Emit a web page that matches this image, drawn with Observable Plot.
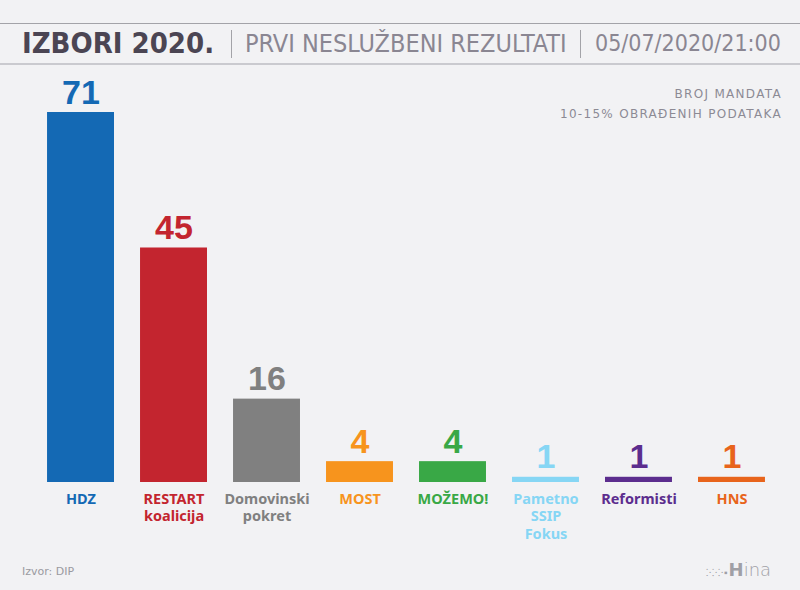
<!DOCTYPE html>
<html>
<head>
<meta charset="utf-8">
<script src="https://cdn.jsdelivr.net/npm/d3@7"></script>
<script src="https://cdn.jsdelivr.net/npm/@observablehq/plot@0.6"></script>
<style>
  html, body { margin: 0; padding: 0; background: #f2f2f4; }
  #page { position: relative; width: 800px; height: 590px; background: #f2f2f4; overflow: hidden; font-family: "DejaVu Sans", sans-serif; }
  #header { position: absolute; left: 0; top: 23px; width: 800px; height: 39px; border-top: 1px solid #a3a3a8; border-bottom: 2px solid #cacacf; }
  #header span { position: absolute; top: 0; line-height: 39px; white-space: nowrap; font-family: "DejaVu Sans Condensed", "DejaVu Sans", sans-serif; font-stretch: condensed; }
  #title { left: 22px; font-size: 29px; font-weight: bold; color: #4b4553; }
  #sub { left: 245px; font-size: 25px; color: #8a8692; }
  #date { left: 595px; font-size: 23px; color: #8a8692; }
  .sep { position: absolute; top: 6px; width: 1px; height: 28px; background: #a3a3a8; }
  .note { position: absolute; right: 18px; font-family: "DejaVu Sans", sans-serif; font-size: 12px; letter-spacing: 1.3px; color: #8c8a94; white-space: nowrap; }
  #chart { position: absolute; left: 0; top: 64px; }
  #src { position: absolute; left: 22px; top: 565px; font-size: 11px; color: #9a9aa0; font-family: "DejaVu Sans", sans-serif; }
  #logo { position: absolute; left: 706px; top: 559px; font-size: 18px; color: #a0a0a6; font-family: "DejaVu Sans", sans-serif; font-weight: 300; }
</style>
</head>
<body>
<div id="page">
  <div id="header">
    <span id="title">IZBORI 2020.</span>
    <div class="sep" style="left:231px"></div>
    <span id="sub">PRVI NESLUŽBENI REZULTATI</span>
    <div class="sep" style="left:580px"></div>
    <span id="date">05/07/2020/21:00</span>
  </div>
  <div class="note" style="top:87px">BROJ MANDATA</div>
  <div class="note" style="top:107px">10-15% OBRAĐENIH PODATAKA</div>
  <div id="chart"></div>
  <div id="src">Izvor: DIP</div>
  <div id="logo"><span style="font-size:10px;letter-spacing:1px">⁚⁖⁘▪</span><b style="font-weight:bold">H</b>ina</div>
</div>
<script>
const parties = ["HDZ", "RESTART\nkoalicija", "Domovinski\npokret", "MOST", "MOŽEMO!", "Pametno\nSSIP\nFokus", "Reformisti", "HNS"];
const seats = [71, 45, 16, 4, 4, 1, 1, 1];
const barColors = ["#1469b4", "#c3252f", "#808080", "#f7941d", "#39a846", "#86d6f4", "#5c2d8e", "#e8641b"];
const labelColors = ["#1469b4", "#c3252f", "#808080", "#f7941d", "#39a846", "#86d6f4", "#5c2d8e", "#e8641b"];

const data = parties.map((p, i) => ({party: p, seats: seats[i], bar: barColors[i], label: labelColors[i]}));

const chart = Plot.plot({
  width: 800,
  height: 526,
  marginLeft: 21,
  marginRight: 9,
  marginTop: 48,
  marginBottom: 108,
  style: { background: "transparent", overflow: "visible" },
  x: { domain: parties, padding: 0.28, round: false, axis: null },
  y: { domain: [0, 71], axis: null },
  marks: [
    Plot.barY(data, { x: "party", y: "seats", fill: "bar" }),
    Plot.text(data, {
      x: "party", y: "seats", text: d => String(d.seats), fill: "label",
      lineAnchor: "bottom", dy: -9, fontSize: 34, fontWeight: "bold",
      fontFamily: "Liberation Sans, Arial, sans-serif"
    }),
    Plot.text(data, {
      x: "party", y: 0, text: "party", fill: "label",
      lineAnchor: "top", dy: 9, fontSize: 14.5, fontWeight: "bold", lineHeight: 1.2,
      fontFamily: "Noto Sans, sans-serif"
    })
  ]
});
document.getElementById("chart").appendChild(chart);
</script>
</body>
</html>
